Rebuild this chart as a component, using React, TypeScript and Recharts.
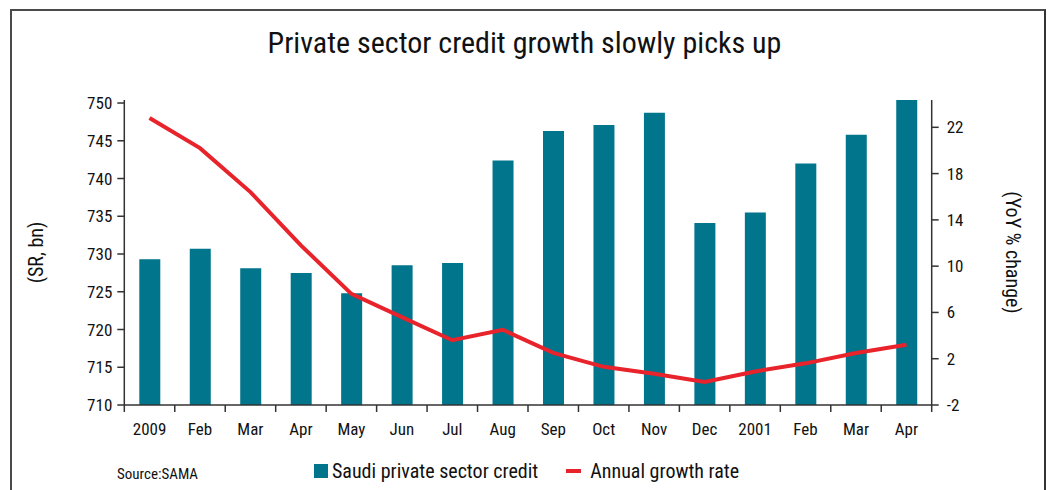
import React from 'react';
import { ComposedChart, Bar, Line, XAxis, YAxis, Legend, Label } from 'recharts';

const months = ['2009', 'Feb', 'Mar', 'Apr', 'May', 'Jun', 'Jul', 'Aug', 'Sep', 'Oct', 'Nov', 'Dec', '2001', 'Feb', 'Mar', 'Apr'];
const credit = [729.3, 730.7, 728.1, 727.5, 724.8, 728.5, 728.8, 742.4, 746.3, 747.1, 748.7, 734.1, 735.5, 742.0, 745.8, 750.4];
const growth = [22.8, 20.2, 16.4, 11.8, 7.6, 5.6, 3.6, 4.5, 2.5, 1.3, 0.7, 0.0, 0.9, 1.6, 2.5, 3.2];
const leftTicks = [710, 715, 720, 725, 730, 735, 740, 745, 750];
const rightTicks = [-2, 2, 6, 10, 14, 18, 22];

const data = months.map((m, i) => ({ month: m, credit: credit[i], growth: growth[i] }));

const FONT = "'Liberation Sans Narrow', 'Arial Narrow', 'Roboto Condensed', 'DejaVu Sans Condensed', sans-serif";
const BAR = '#00758c';
const RED = '#e8232b';
const AXIS = '#333';

const XTick = (props: any) => {
  const { x, y, payload, index, width, visibleTicksCount } = props;
  const bw = width / visibleTicksCount;
  const y0 = y - 7;
  return (
    <g>
      <line x1={x - bw / 2} y1={y0} x2={x - bw / 2} y2={y0 + 7} stroke={AXIS} strokeWidth={1.5} />
      {index === visibleTicksCount - 1 && (
        <line x1={x + bw / 2} y1={y0} x2={x + bw / 2} y2={y0 + 7} stroke={AXIS} strokeWidth={1.5} />
      )}
      <text x={x} y={y0 + 30} textAnchor="middle" fontFamily={FONT} fontSize={17} fill="#111">
        {payload.value}
      </text>
    </g>
  );
};

const LegendContent = () => (
  <div style={{ display: 'flex', alignItems: 'center', fontFamily: FONT, fontSize: 20, color: '#111' }}>
    <span style={{ display: 'inline-block', width: 14, height: 14, background: BAR, marginRight: 4 }} />
    <span>Saudi private sector credit</span>
    <span style={{ display: 'inline-block', width: 15, height: 4, background: RED, marginLeft: 28, marginRight: 9 }} />
    <span>Annual growth rate</span>
  </div>
);

export default function App() {
  return (
    <div style={{ position: 'absolute', left: 0, top: 0, width: 1049, height: 490, background: '#fff', overflow: 'hidden' }}>
      <div style={{ position: 'absolute', left: 10, top: 9, width: 1032, height: 500, borderTop: '2px solid #4a4a4a', borderLeft: '2px solid #4a4a4a', borderRight: '2px solid #333' }} />
      <div style={{ position: 'absolute', left: 0, top: 25, width: 1049, textAlign: 'center', fontFamily: FONT, fontSize: 30, color: '#111' }}>
        Private sector credit growth slowly picks up
      </div>
      <div style={{ position: 'absolute', left: 117, top: 465, fontFamily: FONT, fontSize: 15, color: '#111' }}>Source:SAMA</div>
      <div style={{ position: 'absolute', left: 0, top: 0 }}>
        <ComposedChart width={1049} height={490} data={data} margin={{ top: 100, right: 57.3, bottom: 55, left: 64.3 }}>
          <XAxis
            dataKey="month"
            xAxisId={0}
            height={30}
            tickSize={7}
            tickMargin={0}
            tickLine={{ stroke: 'none' }}
            axisLine={{ stroke: AXIS, strokeWidth: 1.5 }}
            tick={<XTick />}
            interval={0}
          />
          <YAxis
            yAxisId="left"
            orientation="left"
            width={60}
            domain={[710, 750.4]}
            ticks={leftTicks}
            allowDataOverflow
            tickSize={7}
            tickMargin={5}
            axisLine={{ stroke: AXIS, strokeWidth: 1.5 }}
            tickLine={{ stroke: AXIS, strokeWidth: 1.5 }}
            tick={{ fontFamily: FONT, fontSize: 17, fill: '#111' }}
          >
            <Label value="(SR, bn)" angle={-90} position="insideLeft" offset={-28.3} style={{ textAnchor: 'middle', fontFamily: FONT, fontSize: 20, fill: '#111' }} />
          </YAxis>
          <YAxis
            yAxisId="right"
            orientation="right"
            width={60}
            domain={[-2, 24.36]}
            ticks={rightTicks}
            allowDataOverflow
            tickSize={7}
            tickMargin={8}
            axisLine={{ stroke: AXIS, strokeWidth: 1.5 }}
            tickLine={{ stroke: AXIS, strokeWidth: 1.5 }}
            tick={{ fontFamily: FONT, fontSize: 17, fill: '#111' }}
          >
            <Label value="(YoY % change)" angle={90} position="insideRight" offset={-21.3} style={{ textAnchor: 'middle', fontFamily: FONT, fontSize: 20, fill: '#111' }} />
          </YAxis>
          <Legend
            layout="horizontal"
            verticalAlign="middle"
            content={<LegendContent />}
            wrapperStyle={{ position: 'absolute', left: 314, top: 459, width: 520, height: 26 }}
          />
          <Bar yAxisId="left" dataKey="credit" name="Saudi private sector credit" fill={BAR} barSize={21} isAnimationActive={false} />
          <Line yAxisId="right" dataKey="growth" name="Annual growth rate" type="linear" stroke={RED} strokeWidth={4} dot={false} activeDot={false} isAnimationActive={false} />
        </ComposedChart>
      </div>
    </div>
  );
}
